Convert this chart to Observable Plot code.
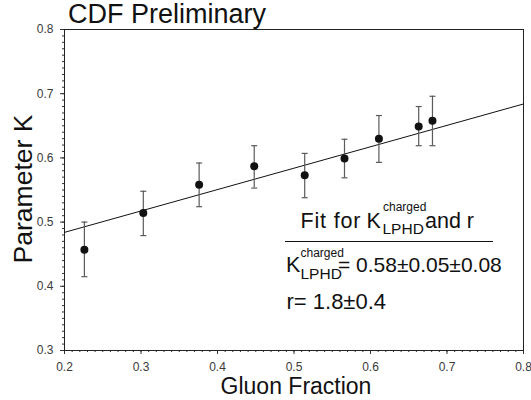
<!DOCTYPE html>
<html>
<head>
<meta charset="utf-8">
<script src="https://cdn.jsdelivr.net/npm/d3@7"></script>
<script src="https://cdn.jsdelivr.net/npm/@observablehq/plot@0.6"></script>
<style>
  html, body { margin: 0; padding: 0; background: white; }
  svg { display: block; }
</style>
</head>
<body>
<div id="chart"></div>
<script>
// Data
const gluonFraction = [0.226, 0.303, 0.376, 0.448, 0.514, 0.566, 0.611, 0.663, 0.681];
const paramK       = [0.457, 0.514, 0.558, 0.587, 0.573, 0.599, 0.630, 0.649, 0.658];
const errLow       = [0.415, 0.479, 0.524, 0.553, 0.538, 0.569, 0.593, 0.619, 0.619];
const errHigh      = [0.500, 0.548, 0.592, 0.619, 0.607, 0.629, 0.666, 0.680, 0.696];
const fitX = [0.2, 0.8];
const fitY = [0.484, 0.684];
const xTicks = [0.2, 0.3, 0.4, 0.5, 0.6, 0.7, 0.8];
const yTicks = [0.3, 0.4, 0.5, 0.6, 0.7, 0.8];
const xMinor = d3.range(20, 81).map(i => i / 100);
const yMinor = d3.range(30, 81).map(i => i / 100);

const points = gluonFraction.map((x, i) => ({x, y: paramK[i], lo: errLow[i], hi: errHigh[i]}));
const fit = fitX.map((x, i) => ({x, y: fitY[i]}));

const capSymbol = {
  draw(context, size) {
    const r = Math.sqrt(size / Math.PI);
    context.moveTo(-r, 0);
    context.lineTo(r, 0);
  }
};

const font = "'Liberation Sans', Arial, Helvetica, sans-serif";

const plot = Plot.plot({
  width: 531,
  height: 400,
  marginLeft: 64,
  marginRight: 8,
  marginTop: 29,
  marginBottom: 50,
  style: {fontFamily: font, background: "white", color: "#222", overflow: "visible"},
  x: {domain: [0.2, 0.8]},
  y: {domain: [0.3, 0.8]},
  marks: [
    Plot.axisX({ticks: xMinor, tickSize: 2, tickFormat: () => "", label: null, stroke: "#333"}),
    Plot.axisY({ticks: yMinor, tickSize: 2, tickFormat: () => "", label: null, stroke: "#333"}),
    Plot.axisX({ticks: xTicks, tickSize: 4, tickPadding: 8, tickFormat: d3.format(".1f"), label: null, fontSize: 12, fill: "#3a3a3a", stroke: "#333"}),
    Plot.axisY({ticks: yTicks, tickSize: 4, tickPadding: 7, tickFormat: d3.format(".1f"), label: null, fontSize: 12, fill: "#3a3a3a", stroke: "#333"}),
    Plot.frame({stroke: "#222", strokeWidth: 1}),
    Plot.line(fit, {x: "x", y: "y", stroke: "#111", strokeWidth: 1}),
    Plot.ruleX(points, {x: "x", y1: "lo", y2: "hi", stroke: "#5a5a5a", strokeWidth: 1.2}),
    Plot.dot(points, {x: "x", y: "lo", symbol: capSymbol, r: 3, stroke: "#5a5a5a", strokeWidth: 1.2, fill: "none"}),
    Plot.dot(points, {x: "x", y: "hi", symbol: capSymbol, r: 3, stroke: "#5a5a5a", strokeWidth: 1.2, fill: "none"}),
    Plot.dot(points, {x: "x", y: "y", r: 4, fill: "#111", stroke: "none"})
  ]
});

document.getElementById("chart").appendChild(plot);

const svg = d3.select(plot);
const g = svg.append("g").attr("font-family", font).attr("fill", "#111");

function txt(x, y, s, size, anchor = "start") {
  return g.append("text").attr("x", x).attr("y", y).attr("font-size", size).attr("text-anchor", anchor).text(s);
}

// Title
txt(68, 23, "CDF Preliminary", 27);
// Axis labels
txt(296, 393.5, "Gluon Fraction", 23, "middle");
g.append("text").attr("font-size", 26.5).attr("text-anchor", "middle")
  .attr("transform", "translate(32,189) rotate(-90)").text("Parameter K");

// Annotation
txt(300.5, 228.3, "Fit for", 21.5).attr("textLength", 60).attr("lengthAdjust", "spacing");
txt(366.5, 228.3, "K", 21.5);
txt(383, 210.5, "charged", 12);
txt(382.5, 234, "LPHD", 15.5);
txt(425, 228.3, "and r", 21.5);
g.append("line").attr("x1", 285).attr("x2", 493).attr("y1", 241.5).attr("y2", 241.5).attr("stroke", "#111").attr("stroke-width", 1);
txt(286, 271.5, "K", 21.5);
txt(300.5, 256.5, "charged", 12);
txt(300.5, 278.5, "LPHD", 15.5);
txt(338, 271.5, "= 0.58\u00b10.05\u00b10.08", 21);
txt(286.5, 308.5, "r= 1.8\u00b10.4", 22);
</script>
</body>
</html>
